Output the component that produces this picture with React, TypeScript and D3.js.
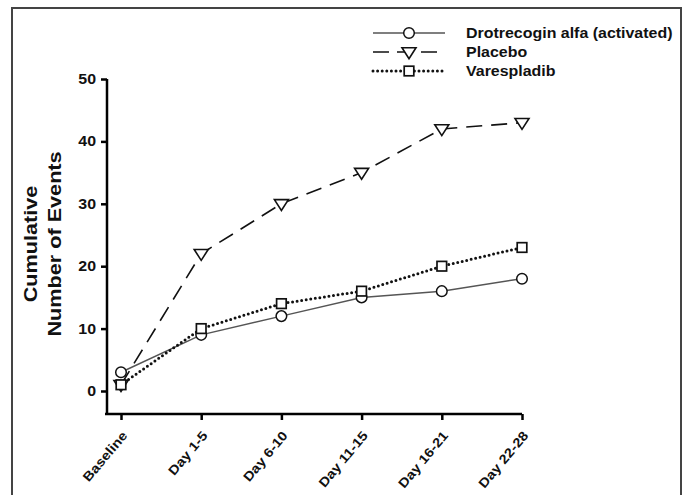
import React, { useRef, useEffect } from 'react';
import * as d3 from 'd3';

const categories = ['Baseline', 'Day 1-5', 'Day 6-10', 'Day 11-15', 'Day 16-21', 'Day 22-28'];
const drotrecogin = [3, 9, 12, 15, 16, 18];
const placebo = [1, 22, 30, 35, 42, 43];
const varespladib = [1, 10, 14, 16, 20, 23];
const yTicks = [0, 10, 20, 30, 40, 50];

const seriesNames = ['Drotrecogin alfa (activated)', 'Placebo', 'Varespladib'];

export default function App() {
  const svgRef = useRef<SVGSVGElement>(null);

  useEffect(() => {
    document.body.style.margin = '0';
    const width = 684;
    const height = 495;
    const font = '"Liberation Sans", Arial, sans-serif';
    const stretch = 1.14; // the original type is a bit wider than Arial

    const svg = d3.select(svgRef.current)
      .attr('width', width)
      .attr('height', height);
    svg.selectAll('*').remove();

    // frame (open at bottom)
    svg.append('path')
      .attr('d', `M12,${height} L12,8 L681,8 L681,${height}`)
      .attr('fill', 'none')
      .attr('stroke', '#444')
      .attr('stroke-width', 2);

    // scales
    const x = d3.scalePoint<string>()
      .domain(categories)
      .range([121, 522]);
    const y = d3.scaleLinear()
      .domain([0, 50])
      .range([391, 79]);

    // y-axis
    const yAxis = svg.append('g')
      .attr('transform', 'translate(107,0)')
      .call(d3.axisLeft(y).tickValues(yTicks).tickSize(6).tickSizeOuter(0));
    yAxis.select('.domain').attr('d', 'M0,79V414').attr('stroke-width', 2.5);
    yAxis.selectAll('.tick line').attr('stroke-width', 2.5);
    yAxis.selectAll('text')
      .attr('x', 0)
      .attr('transform', `translate(-11,0) scale(${stretch},1)`)
      .attr('font-family', font)
      .attr('font-weight', 'bold')
      .attr('font-size', 14)
      .attr('fill', '#111');

    // x-axis
    const xAxis = svg.append('g')
      .attr('transform', 'translate(0,414)')
      .call(d3.axisBottom(x).tickSize(6).tickSizeOuter(0));
    xAxis.select('.domain').attr('d', 'M105,0H522').attr('stroke-width', 2.5);
    xAxis.selectAll('.tick line').attr('stroke-width', 2.5);
    xAxis.selectAll('text')
      .attr('y', 0)
      .attr('dy', '0.35em')
      .attr('font-family', font)
      .attr('font-weight', 'bold')
      .attr('font-size', 13)
      .attr('fill', '#111')
      .attr('text-anchor', 'end')
      .attr('transform', `translate(3,19) rotate(-50) scale(${stretch},1)`);

    // y-axis title
    const title = svg.append('text')
      .attr('transform', `translate(37,244) rotate(-90) scale(${stretch},1)`)
      .attr('text-anchor', 'middle')
      .attr('font-family', font)
      .attr('font-weight', 'bold')
      .attr('font-size', 19)
      .attr('fill', '#111');
    title.append('tspan').attr('x', 0).attr('y', 0).text('Cumulative');
    title.append('tspan').attr('x', 0).attr('y', 24).text('Number of Events');

    const line = d3.line<number>()
      .x((_, i) => x(categories[i]) as number)
      .y(d => y(d));

    const styles = [
      { data: drotrecogin, stroke: '#555', width: 1.5, dash: null, cap: 'butt', marker: 'circle' },
      { data: placebo, stroke: '#111', width: 1.6, dash: '16,9', cap: 'butt', marker: 'triangle' },
      { data: varespladib, stroke: '#111', width: 3, dash: '0,4.6', cap: 'round', marker: 'square' },
    ];

    const drawMarker = (g: any, type: string, cx: number, cy: number) => {
      if (type === 'circle') {
        g.append('circle').attr('cx', cx).attr('cy', cy).attr('r', 5.3)
          .attr('fill', 'white').attr('stroke', '#111').attr('stroke-width', 1.5);
      } else if (type === 'triangle') {
        const s = 7;
        g.append('path')
          .attr('d', `M${cx - s},${cy - s * 0.6} L${cx + s},${cy - s * 0.6} L${cx},${cy + s * 0.95} Z`)
          .attr('fill', 'white').attr('stroke', '#111').attr('stroke-width', 1.6);
      } else {
        g.append('rect').attr('x', cx - 4.8).attr('y', cy - 4.8).attr('width', 9.6).attr('height', 9.6)
          .attr('fill', 'white').attr('stroke', '#111').attr('stroke-width', 1.7);
      }
    };

    // lines
    styles.forEach(s => {
      svg.append('path')
        .datum(s.data)
        .attr('fill', 'none')
        .attr('stroke', s.stroke)
        .attr('stroke-width', s.width)
        .attr('stroke-dasharray', s.dash)
        .attr('stroke-linecap', s.cap)
        .attr('d', line);
    });
    // markers
    styles.forEach(s => {
      const g = svg.append('g');
      s.data.forEach((d, i) => drawMarker(g, s.marker, x(categories[i]) as number, y(d)));
    });

    // legend
    const legend = svg.append('g');
    const rowY = [33, 52, 71];
    styles.forEach((s, i) => {
      const ly = rowY[i];
      legend.append('line')
        .attr('x1', 373).attr('x2', 445).attr('y1', ly).attr('y2', ly)
        .attr('stroke', s.stroke)
        .attr('stroke-width', s.width)
        .attr('stroke-dasharray', i === 1 ? '16,8' : s.dash)
        .attr('stroke-linecap', s.cap);
      drawMarker(legend, s.marker, 409, ly);
      legend.append('text')
        .attr('transform', `translate(466,${ly}) scale(${stretch},1)`)
        .attr('dy', '0.35em')
        .attr('font-family', font)
        .attr('font-weight', 'bold')
        .attr('font-size', 14)
        .attr('fill', '#111')
        .text(seriesNames[i]);
    });
  }, []);

  return <svg ref={svgRef} style={{ display: 'block' }}></svg>;
}
